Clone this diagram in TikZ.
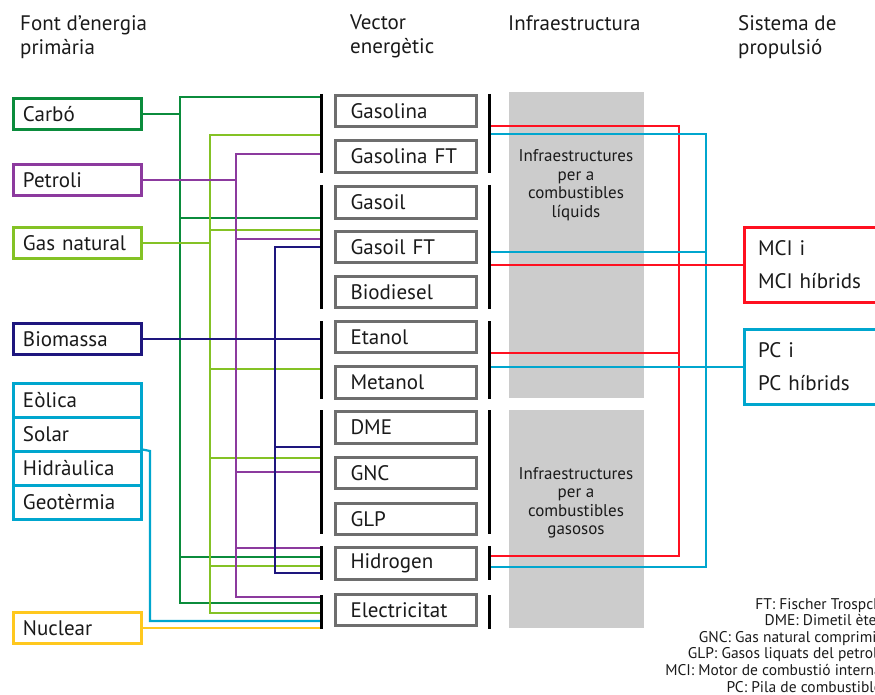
\documentclass[tikz,border=0pt]{standalone}
\usepackage{fontspec}
\setmainfont{PT Sans}
\definecolor{cgreen}{HTML}{0B8C3C}
\definecolor{lgreen}{HTML}{84C225}
\definecolor{cpurple}{HTML}{8C3A9E}
\definecolor{cnavy}{HTML}{1E167E}
\definecolor{ccyan}{HTML}{00A6CE}
\definecolor{cyellow}{HTML}{FFC81E}
\definecolor{cred}{HTML}{FF1020}
\definecolor{vecgray}{HTML}{6E6E6E}
\definecolor{infgray}{HTML}{CCCCCC}
\definecolor{txt}{HTML}{1A1A1A}
\pgfdeclarelayer{bottom}
\pgfdeclarelayer{background}
\pgfsetlayers{bottom,background,main}
\begin{document}
\begin{tikzpicture}[x=1pt,y=-1pt,
  src/.style={draw=#1, line width=3pt, fill=white, minimum height=31.5pt,
    text width=108pt, inner xsep=10pt, inner ysep=0pt, align=left,
    font=\fontsize{21}{25}\selectfont, text=txt, anchor=west},
  ren/.style={src=ccyan, minimum height=34pt},
  vec/.style={draw=vecgray, line width=3pt, fill=white, minimum height=31.5pt,
    text width=110pt, inner xsep=15.5pt, inner ysep=0pt, align=left,
    font=\fontsize{21}{25}\selectfont, text=txt, anchor=west},
  prop/.style={draw=#1, line width=3pt, fill=white, minimum height=75pt,
    text width=200pt, inner xsep=14pt, inner ysep=0pt, align=left,
    font=\fontsize{21}{33}\selectfont, text=txt, anchor=west},
  head/.style={anchor=north west, inner sep=0pt, align=left,
    font=\fontsize{21}{24}\selectfont, text=txt},
  infra/.style={fill=infgray, draw=none},
  infratext/.style={align=center, font=\fontsize{17}{18.5}\selectfont, text=txt},
  conn/.style={line width=2.2pt, draw=#1},
  barline/.style={line width=3pt, draw=black},
  legend/.style={anchor=north east, align=right, inner sep=0pt,
    font=\fontsize{15.5}{16.6}\selectfont, text=txt}
]
\useasboundingbox (0,0) rectangle (875,695);
\clip (0,0) rectangle (875,695);
\def\lb{321}\def\rb{489}
\def\gx{180}\def\lx{210}\def\px{236}\def\nx{275}\def\cx{150}
\def\rx{679}\def\bx{706}

% headers
\node[head] (h1) at (20,15) {Font d’energia\\primària};
\node[head] (h2) at (350,15) {Vector\\energètic};
\node[head] (h3) at (508,15) {Infraestructura};
\node[head] (h4) at (738,15) {Sistema de\\propulsió};

% infrastructure areas
\begin{pgfonlayer}{bottom}
\path[infra] (509,92) rectangle (644,398);
\path[infra] (509,410) rectangle (644,628);
\end{pgfonlayer}
\node[infratext] (liq) at (576,185) {Infraestructures\\per a\\combustibles\\líquids};
\node[infratext] (gas) at (576,503) {Infraestructures\\per a\\combustibles\\gasosos};

% source boxes
\node[src=cgreen] (carbo) at (11.5,114) {Carbó};
\node[src=cpurple] (petroli) at (11.5,180) {Petroli};
\node[src=lgreen] (gasnat) at (11.5,243) {Gas natural};
\node[src=cnavy] (biomassa) at (11.5,339) {Biomassa};
\node[ren] (eolica) at (11.5,400) {Eòlica};
\node[ren] (solar) at (11.5,434) {Solar};
\node[ren] (hidraulica) at (11.5,468) {Hidràulica};
\node[ren] (geotermia) at (11.5,502) {Geotèrmia};
\node[src=cyellow] (nuclear) at (11.5,628) {Nuclear};

% vectors
\node[vec] (v1) at (333.5,111) {Gasolina};
\node[vec] (v2) at (333.5,156.5) {Gasolina FT};
\node[vec] (v3) at (333.5,202.5) {Gasoil};
\node[vec] (v4) at (333.5,247) {Gasoil FT};
\node[vec] (v5) at (333.5,292) {Biodiesel};
\node[vec] (v6) at (333.5,337) {Etanol};
\node[vec] (v7) at (333.5,382.5) {Metanol};
\node[vec] (v8) at (333.5,427.5) {DME};
\node[vec] (v9) at (333.5,473) {GNC};
\node[vec] (v10) at (333.5,519) {GLP};
\node[vec] (v11) at (333.5,563.5) {Hidrogen};
\node[vec] (v12) at (333.5,610) {Electricitat};

% propulsion
\node[prop=cred] (mci) at (742.5,265) {MCI i\\MCI híbrids};
\node[prop=ccyan] (pc) at (742.5,367) {PC i\\PC híbrids};

\begin{pgfonlayer}{background}
% right side: red
\draw[conn=cred] (\rb,126) -| (\rx,556) -- (\rb,556);
\draw[conn=cred] (\rb,353) -- (\rx,353);
% right side: cyan
\draw[conn=ccyan] (\rb,134) -| (\bx,567) -- (\rb,567);
\draw[conn=ccyan] (\rb,252) -- (\bx,252);
\draw[conn=ccyan] (pc.west) -- (pc.west -| \rb,0);
\draw[conn=cred] (mci.west) -- (mci.west -| \rb,0);

% left buses
\draw[conn=cgreen] (carbo.east) -- (carbo.east -| \gx,0);
\draw[conn=cgreen] (\lb,97) -| (\gx,603) -- (\lb,603);
\draw[conn=cgreen] (\gx,218) -- (\lb,218);
\draw[conn=cgreen] (\gx,557) -- (\lb,557);

\draw[conn=lgreen] (gasnat.east) -- (gasnat.east -| \lx,0);
\draw[conn=lgreen] (\lb,135) -| (\lx,613) -- (\lb,613);
\draw[conn=lgreen] (\lx,230) -- (\lb,230);
\draw[conn=lgreen] (\lx,369) -- (\lb,369);
\draw[conn=lgreen] (\lx,458) -- (\lb,458);
\draw[conn=lgreen] (\lx,566) -- (\lb,566);

\draw[conn=cpurple] (petroli.east) -- (petroli.east -| \px,0);
\draw[conn=cpurple] (\lb,154) -| (\px,597) -- (\lb,597);
\draw[conn=cpurple] (\px,239) -- (\lb,239);
\draw[conn=cpurple] (\px,472) -- (\lb,472);
\draw[conn=cpurple] (\px,548) -- (\lb,548);

\draw[conn=cnavy] (\lb,247) -| (\nx,573) -- (\lb,573);
\draw[conn=cnavy] (\nx,447) -- (\lb,447);
\draw[conn=cnavy] (biomassa.east) -- (biomassa.east -| \lb,0);

\draw[conn=ccyan] (hidraulica.north east) -- (\cx,451) -- (\cx,621) -- (\lb,621);
\draw[conn=cyellow] (nuclear.east) -- (nuclear.east -| \lb,0);
\end{pgfonlayer}

% bars
\foreach \y/\z in {94/173,185/309,321/399,410/534,546/580,595/629}{
  \draw[barline] (\lb,\y) -- (\lb,\z);
  \draw[barline] (\rb,\y) -- (\rb,\z);
}

% legend
\node[legend] (leg) at (882,598) {FT: Fischer Trospch\\DME: Dimetil èter\\GNC: Gas natural comprimit\\GLP: Gasos liquats del petroli\\MCI: Motor de combustió interna\\PC: Pila de combustible};
\end{tikzpicture}
\end{document}
